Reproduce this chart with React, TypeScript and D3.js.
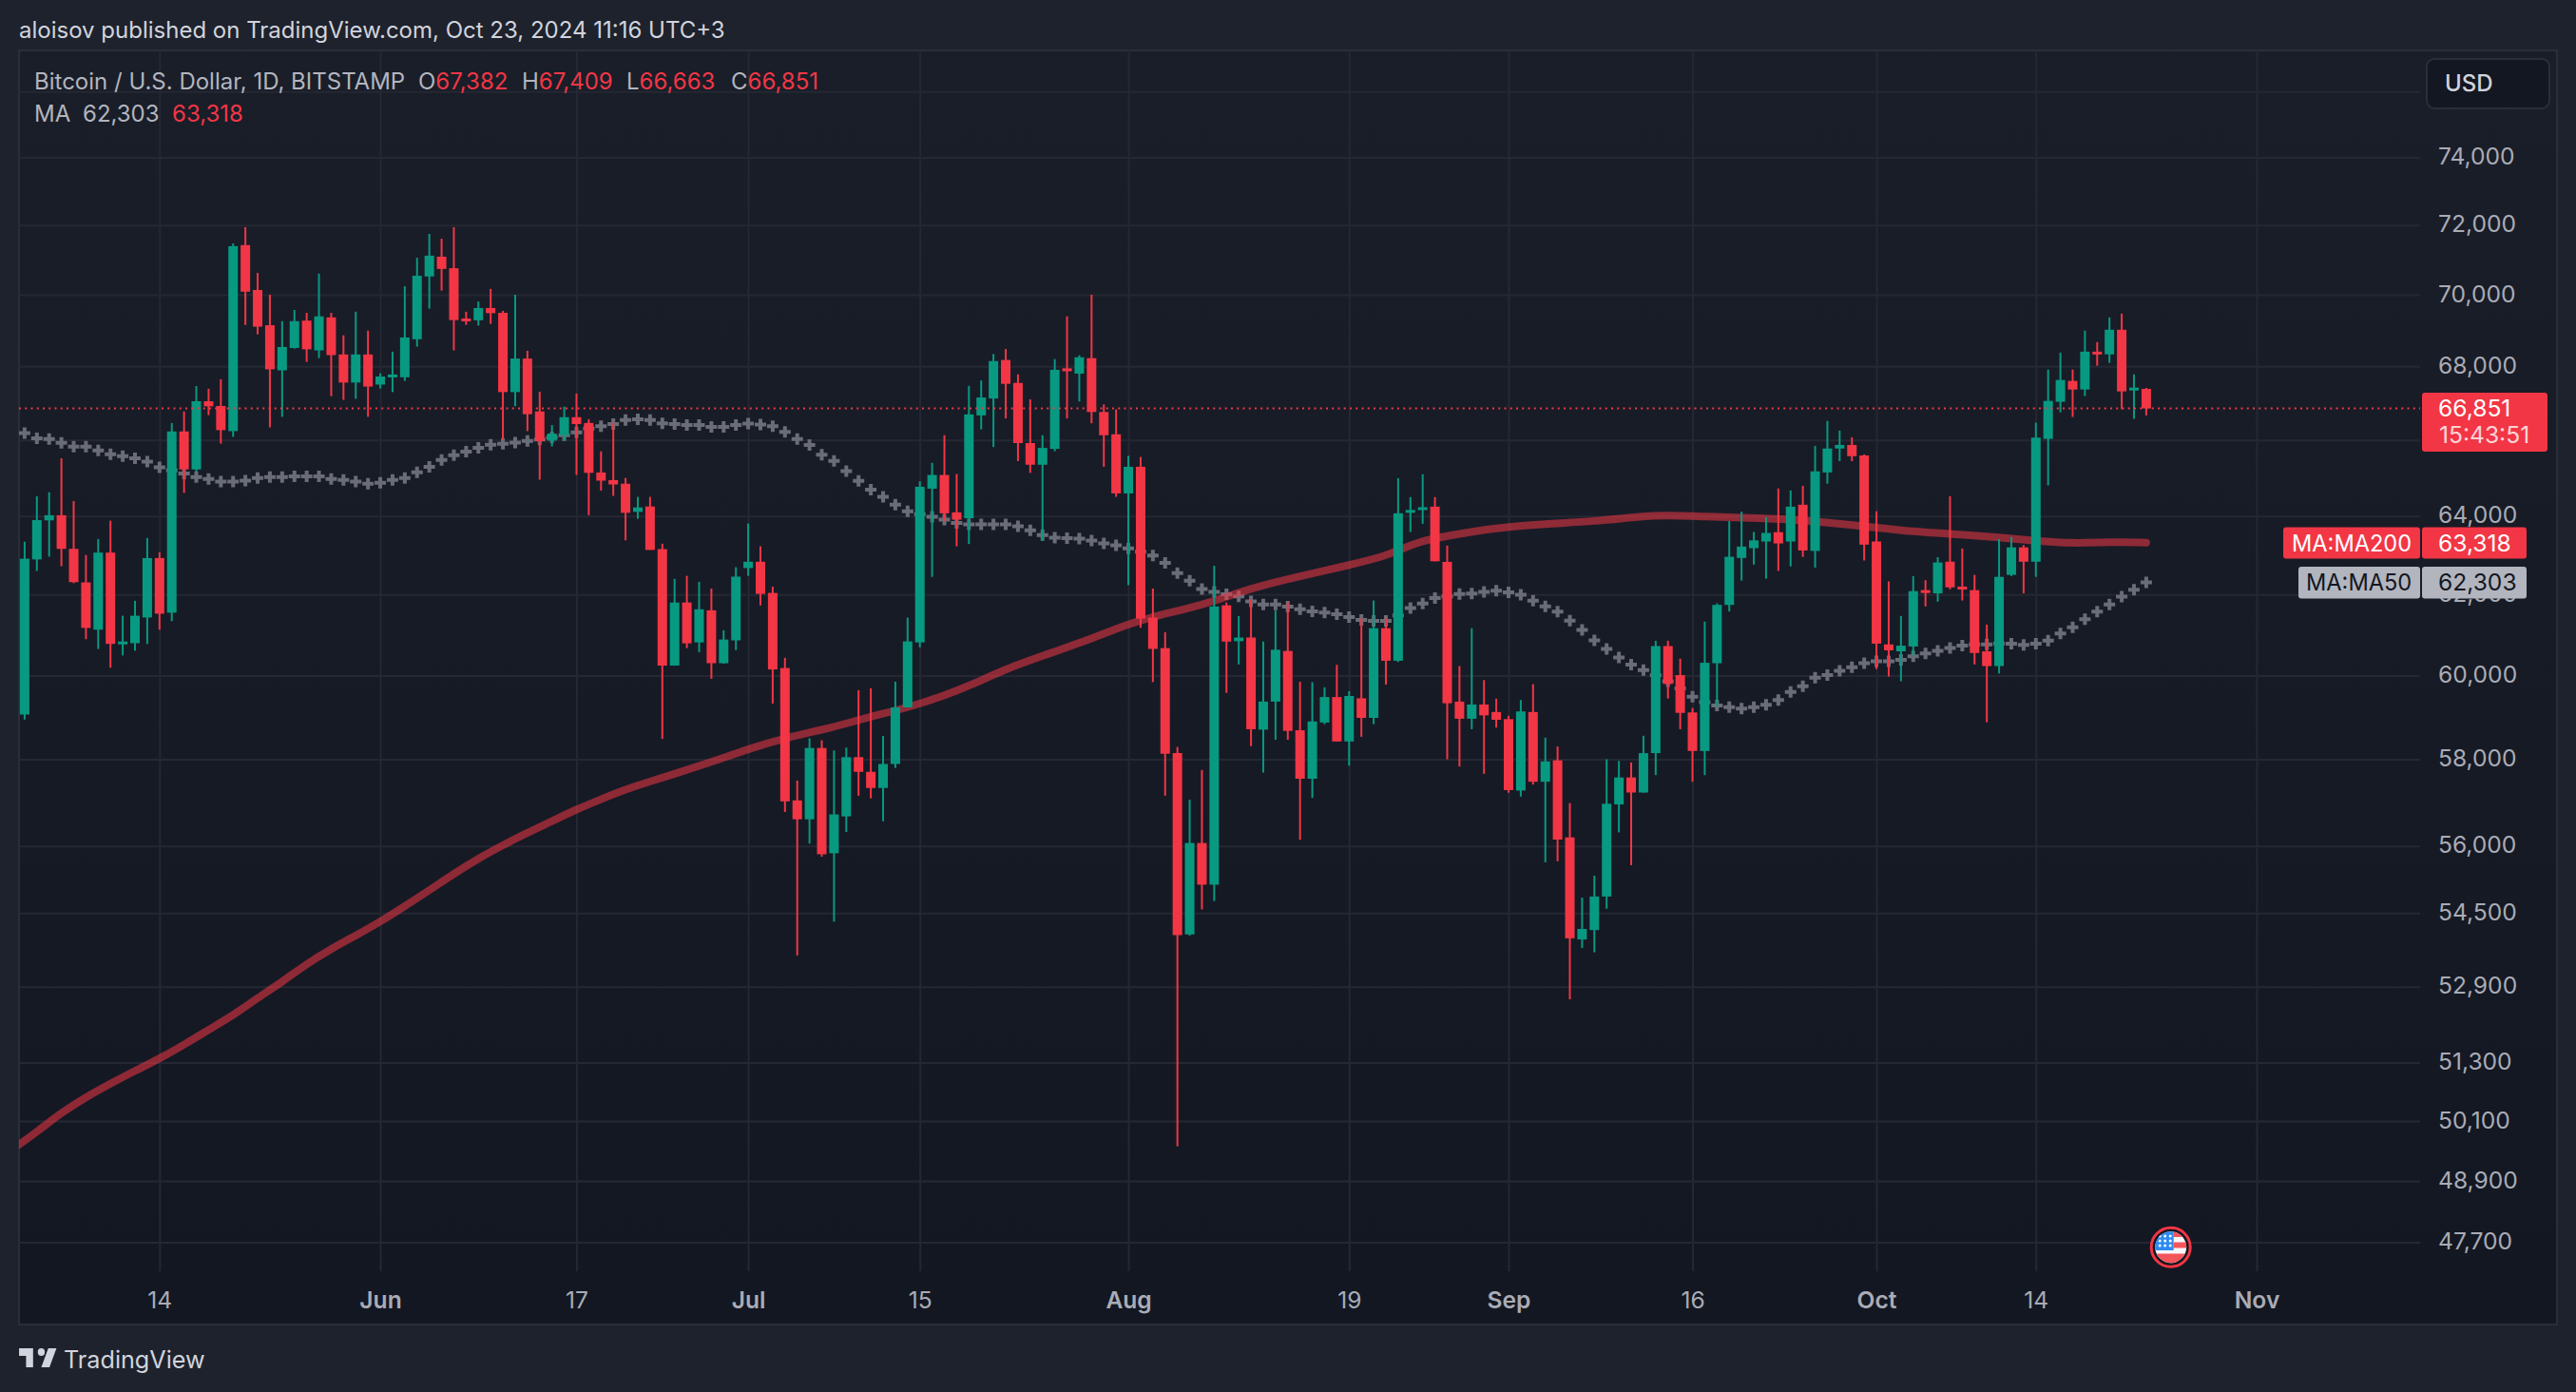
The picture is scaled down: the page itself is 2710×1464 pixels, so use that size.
import { useEffect, useRef } from 'react'
import * as d3 from 'd3'

const startDay = new Date(Date.UTC(2024, 4, 3))

// daily BITSTAMP candles, May 3 to Oct 23 2024
const opens = [
  59060, 62887, 63890, 64022, 63157, 62304, 61124, 63061, 60790, 60790, 61427, 62922, 61546, 66231, 65220, 67046, 66917, 66240, 71420, 70135,
  69140, 67890, 68507, 69270, 68440, 69360, 68328, 67555, 68328, 67500, 67720, 67700, 68750, 70520, 71085, 70755, 69330, 69280, 69625, 69490,
  67295, 68215, 66770, 65985, 66130, 66615, 66458, 65140, 64940, 64845, 64110, 64250, 63150, 60242, 61800, 60810, 61605, 60300, 60860, 62668,
  62828, 62040, 60182, 57043, 56608, 58265, 55835, 56675, 58050, 57706, 57330, 57890, 59232, 60810, 64714, 65074, 64097, 63945, 66663, 67120,
  68175, 67545, 65920, 65345, 65765, 67945, 67800, 68225, 66755, 66155, 64590, 65290, 61424, 60670, 58146, 54030, 56067, 55130, 61730, 60840,
  60930, 58700, 59370, 60600, 58685, 57545, 58870, 59480, 58420, 59450, 58980, 61160, 60360, 64090, 64160, 64245, 62825, 59370, 58960, 59300,
  59120, 58950, 57270, 59120, 57475, 57975, 56195, 53920, 54125, 54865, 56950, 57575, 57225, 58145, 60720, 60010, 59110, 58195, 60300, 61740,
  62925, 63175, 63345, 63585, 63345, 64295, 63105, 65140, 65775, 65870, 65590, 63345, 60760, 60590, 60710, 62110, 62030, 62830, 62200, 62110,
  60590, 60230, 62495, 63195, 62830, 66032, 67031, 67600, 67365, 68405, 68330, 69015, 67365, 67382,
]
const highs = [
  63339, 64515, 64622, 65515, 64392, 63000, 63409, 63881, 61470, 61843, 63435, 63070, 66458, 66770, 67460, 67386, 67645, 71470, 71940, 70620,
  70000, 69255, 69570, 69490, 70600, 69490, 68860, 69520, 68990, 67805, 68405, 70240, 71055, 71745, 71605, 71940, 69520, 69810, 70165, 69545,
  70000, 68430, 67305, 66400, 66900, 67255, 66560, 65700, 66470, 64995, 64500, 64500, 63290, 62395, 62470, 62320, 62150, 61110, 62690, 63808,
  63222, 62198, 60432, 57501, 58493, 58447, 58208, 58275, 59645, 59692, 58550, 59850, 61424, 64907, 65395, 66130, 65100, 67465, 67612, 68340,
  68480, 67780, 67095, 66130, 68200, 69390, 68306, 70000, 66960, 66825, 65580, 65550, 62150, 61060, 58290, 57060, 57750, 62725, 61800, 61460,
  61880, 60830, 61600, 61810, 59850, 59840, 59715, 60260, 59620, 61410, 61850, 61410, 64990, 64495, 65095, 64495, 63240, 60230, 61160, 59890,
  59440, 59030, 59410, 59790, 58510, 58300, 56980, 54840, 55330, 58000, 57960, 57925, 58555, 60850, 60850, 60410, 59215, 61325, 61780, 63870,
  64115, 63590, 63975, 64720, 64670, 64790, 65845, 66515, 66255, 66075, 65620, 64125, 62330, 61465, 62465, 62360, 62945, 64520, 63165, 62495,
  61250, 63410, 63460, 63255, 66466, 67912, 68380, 67912, 68990, 68670, 69360, 69466, 67780, 67409,
]
const lows = [
  58940, 62595, 62957, 62715, 62287, 60890, 60648, 60190, 60490, 60606, 60773, 61124, 61335, 64604, 65155, 66670, 65905, 66085, 69150, 68885,
  66340, 66625, 68490, 68122, 68225, 67183, 67083, 67110, 66625, 67395, 67295, 67600, 68545, 69605, 70115, 68440, 69150, 69130, 69180, 66015,
  66910, 66240, 64950, 65830, 65985, 65075, 64025, 64665, 64525, 63375, 63930, 63130, 58480, 60240, 60670, 60570, 59920, 60290, 60620, 62470,
  61727, 59323, 56775, 53573, 56055, 55757, 54310, 56317, 57150, 57087, 56562, 57797, 59230, 60690, 62445, 63870, 63222, 63280, 66285, 65815,
  66580, 65440, 65130, 63368, 65700, 66580, 67040, 66450, 65290, 64500, 62235, 61170, 59840, 57150, 49590, 54005, 54580, 54765, 59580, 60270,
  58310, 57690, 58460, 58460, 56140, 57100, 58830, 58420, 57850, 58530, 58830, 59780, 60330, 63590, 63800, 62840, 58000, 57830, 58710, 57660,
  58750, 57220, 57130, 57410, 55630, 55655, 52630, 53735, 53640, 54595, 56310, 55565, 57220, 57630, 59445, 58710, 57475, 57630, 59250, 61575,
  62350, 62755, 62400, 62595, 62710, 62950, 62680, 64845, 65440, 65440, 62860, 60155, 59975, 59860, 60490, 61700, 61820, 62130, 61850, 60270,
  58875, 60050, 62465, 62030, 62445, 64800, 66746, 66620, 67185, 68018, 68095, 66830, 66570, 66663,
]
const closes = [
  62905, 63898, 64022, 63157, 62312, 61167, 63061, 60773, 60832, 61470, 62922, 61520, 66231, 65220, 67046, 66908, 66266, 71390, 70087, 69100,
  67918, 68535, 69255, 68470, 69390, 68310, 67555, 68328, 67445, 67720, 67775, 68800, 70540, 71115, 70735, 69285, 69270, 69625, 69480, 67295,
  68215, 66695, 65970, 66175, 66615, 66430, 65130, 64925, 64825, 64085, 64225, 63130, 60242, 61800, 60787, 61630, 60300, 60880, 62450, 62828,
  62016, 60148, 57020, 56608, 58265, 55812, 56720, 58050, 57706, 57330, 57890, 59232, 60835, 64765, 65074, 64072, 63908, 66690, 67148, 68145,
  67520, 65920, 65345, 65790, 67905, 67865, 68250, 66755, 66130, 64590, 65290, 61400, 60650, 58130, 54015, 56067, 55130, 61700, 60830, 60930,
  58710, 59370, 60630, 58670, 57545, 58895, 59480, 58420, 59505, 58980, 61160, 60360, 64073, 64160, 64230, 62840, 59330, 58960, 59300, 59040,
  58935, 57280, 59135, 57475, 57950, 56145, 53945, 54150, 54865, 56965, 57575, 57225, 58145, 60720, 59795, 59100, 58195, 60310, 61740, 62955,
  63215, 63375, 63565, 63295, 64245, 63115, 65170, 65775, 65870, 65570, 63265, 60780, 60615, 60730, 62085, 62060, 62810, 62180, 62125, 60550,
  60230, 62445, 63195, 62830, 66065, 67056, 67625, 67365, 68405, 68330, 69015, 67313, 67417, 66851,
]

const ma50 = [
  66185, 66050, 66030, 65925, 65825, 65825, 65725, 65625, 65570, 65515, 65425, 65273, 65200, 65110, 65020, 64970, 64900, 64900, 64925, 64995,
  65020, 65020, 65040, 65040, 65040, 64970, 64945, 64900, 64845, 64870, 64945, 64995, 65145, 65290, 65470, 65595, 65695, 65795, 65875, 65900,
  65930, 65975, 66015, 66070, 66130, 66205, 66305, 66375, 66430, 66540, 66560, 66540, 66450, 66430, 66405, 66405, 66350, 66350, 66405, 66440,
  66415, 66375, 66220, 66025, 65870, 65610, 65445, 65175, 64920, 64689, 64500, 64300, 64125, 64050, 63985, 63910, 63820, 63785, 63785, 63785,
  63785, 63735, 63635, 63510, 63445, 63431, 63420, 63370, 63295, 63245, 63170, 63085, 62985, 62800, 62540, 62345, 62140, 62065, 62005, 61955,
  61825, 61750, 61750, 61700, 61630, 61577, 61549, 61507, 61437, 61367, 61340, 61340, 61479, 61660, 61773, 61913, 61955, 62011, 62025, 62067,
  62095, 62053, 61997, 61843, 61706, 61570, 61350, 61116, 60859, 60650, 60440, 60268, 60135, 60013, 59863, 59690, 59490, 59358, 59275, 59237,
  59200, 59237, 59292, 59405, 59600, 59742, 59947, 60013, 60116, 60200, 60298, 60345, 60345, 60384, 60470, 60540, 60605, 60673, 60730, 60760,
  60760, 60785, 60778, 60750, 60778, 60855, 61030, 61180, 61385, 61570, 61750, 61945, 62120, 62303,
]

// MA200 read at every few days, days counted from startDay
const ma200Days = [
  -1, 1, 3, 5, 7, 9, 11, 13, 15, 17, 19, 21, 23, 25, 27, 29, 31, 33, 35, 37, 39, 41, 43, 45, 47, 49, 51, 54, 56, 59, 62, 66, 69, 72, 75, 77, 80,
  83, 87, 90, 92, 96, 99, 101, 104, 108, 111, 112, 114, 116, 120, 124, 128, 132, 134, 137, 141, 143, 147, 150, 154, 158, 161, 164, 167, 170, 173,
]
const ma200 = [
  49525, 49880, 50270, 50587, 50864, 51128, 51380, 51670, 51987, 52287, 52660, 53000, 53392, 53715, 54005, 54307, 54654, 55003, 55375, 55717,
  56017, 56302, 56564, 56836, 57070, 57297, 57480, 57752, 57934, 58242, 58504, 58760, 59012, 59222, 59515, 59746, 60160, 60480, 60900, 61266,
  61450, 61730, 62053, 62235, 62460, 62740, 62980, 63120, 63370, 63490, 63700, 63800, 63862, 64000, 64025, 63985, 63950, 63933, 63833, 63740,
  63593, 63525, 63453, 63360, 63295, 63333, 63318,
]

const gridTicks = [76000, 74000, 72000, 70000, 68000, 66000, 64000, 62000, 60000, 58000, 56000, 54500, 52900, 51300, 50100, 48900, 47700]
// 76,000 and 66,000 sit fully behind the USD button and the last price label
const priceTicks = [74000, 72000, 70000, 68000, 64000, 62000, 60000, 58000, 56000, 54500, 52900, 51300, 50100, 48900, 47700]
const timeTicks = [
  new Date(Date.UTC(2024, 4, 14)),
  new Date(Date.UTC(2024, 5, 1)),
  new Date(Date.UTC(2024, 5, 17)),
  new Date(Date.UTC(2024, 6, 1)),
  new Date(Date.UTC(2024, 6, 15)),
  new Date(Date.UTC(2024, 7, 1)),
  new Date(Date.UTC(2024, 7, 19)),
  new Date(Date.UTC(2024, 8, 1)),
  new Date(Date.UTC(2024, 8, 16)),
  new Date(Date.UTC(2024, 9, 1)),
  new Date(Date.UTC(2024, 9, 14)),
  new Date(Date.UTC(2024, 10, 1)),
]
const lastClose = 66851
const lastMa200 = 63318
const lastMa50 = 62303
const eventDay = new Date(Date.UTC(2024, 9, 25))

const UP = '#089981'
const DOWN = '#f23645'
const GRID = '#252833'
const FONT = 'Inter, "Noto Sans", sans-serif'

const width = 2710
const height = 1464
const plot = { left: 20, top: 53, right: 2690, bottom: 1393, priceEdge: 2546, gridBottom: 1337 }

const x = d3
  .scaleUtc()
  .domain([startDay, new Date(Date.UTC(2024, 10, 1))])
  .range([25.9, 2374])
const y = d3.scaleLog().domain([47700, 74000]).range([1306.5, 165.6])

const dayAt = (i: number) => d3.utcDay.offset(startDay, i)

export default function App() {
  const svgRef = useRef<SVGSVGElement>(null)
  const fmt = d3.format(',')

  useEffect(() => {
    if (!svgRef.current) return
    const svg = d3.select(svgRef.current)
    const g = svg.select<SVGGElement>('.chart')
    g.selectAll('*').remove()

    // Grid
    const gridY = g
      .append('g')
      .attr('transform', `translate(${plot.left},0)`)
      .call(
        d3
          .axisRight(y)
          .tickValues(gridTicks)
          .tickSize(plot.priceEdge - plot.left)
          .tickFormat(() => ''),
      )
    const gridX = g
      .append('g')
      .attr('transform', `translate(0,${plot.top})`)
      .call(
        d3
          .axisBottom(x)
          .tickValues(timeTicks)
          .tickSize(plot.gridBottom - plot.top)
          .tickFormat(() => ''),
      )
    for (const grid of [gridY, gridX]) {
      grid.select('.domain').remove()
      grid.selectAll('line').attr('stroke', GRID).attr('stroke-width', 2)
    }

    const marks = g.append('g').attr('clip-path', 'url(#plot-clip)')

    // MA50 crosses sit behind the candles
    const cross = d3.symbol(d3.symbolCross, 80)
    marks
      .append('g')
      .selectAll('path')
      .data(ma50)
      .join('path')
      .attr('d', cross)
      .attr('transform', (d, i) => `translate(${x(dayAt(i))},${y(d)})`)
      .attr('fill', '#6a6d78')

    // MA200
    const line = d3
      .line<number>()
      .x((d, i) => x(dayAt(ma200Days[i])))
      .y(d => y(d))
      .curve(d3.curveBasis)
    marks
      .append('path')
      .datum(ma200)
      .attr('d', line)
      .attr('fill', 'none')
      .attr('stroke', DOWN)
      .attr('stroke-opacity', 0.55)
      .attr('stroke-width', 8)
      .attr('stroke-linecap', 'round')

    // Candles
    const candles = marks
      .append('g')
      .selectAll('g')
      .data(d3.range(opens.length))
      .join('g')
      .attr('fill', i => (closes[i] >= opens[i] ? UP : DOWN))
    candles
      .append('rect')
      .attr('x', i => x(dayAt(i)) - 1)
      .attr('width', 2)
      .attr('y', i => y(highs[i]))
      .attr('height', i => y(lows[i]) - y(highs[i]))
    candles
      .append('rect')
      .attr('x', i => x(dayAt(i)) - 5)
      .attr('width', 10)
      .attr('y', i => y(Math.max(opens[i], closes[i])))
      .attr('height', i => Math.max(3, Math.abs(y(opens[i]) - y(closes[i]))))

    // Last price line
    g.append('line')
      .attr('x1', plot.left)
      .attr('x2', plot.priceEdge)
      .attr('y1', y(lastClose))
      .attr('y2', y(lastClose))
      .attr('stroke', DOWN)
      .attr('stroke-width', 2)
      .attr('stroke-dasharray', '2 4.25')

    // Axes
    const priceAxis = g
      .append('g')
      .attr('transform', `translate(${plot.priceEdge},0)`)
      .call(d3.axisRight(y).tickValues(priceTicks).tickSize(0).tickPadding(19).tickFormat(d => fmt(+d)))
    const timeAxis = g
      .append('g')
      .attr('transform', 'translate(0,1359)')
      .call(
        d3
          .axisBottom(x)
          .tickValues(timeTicks)
          .tickSize(0)
          .tickPadding(0)
          .tickFormat(d => {
            const day = d as Date
            return day.getUTCDate() === 1 ? d3.utcFormat('%b')(day) : d3.utcFormat('%-d')(day)
          }),
      )
    for (const axis of [priceAxis, timeAxis]) {
      axis.select('.domain').remove()
      axis.attr('font-family', FONT).attr('font-size', 24.6)
      axis.selectAll('text').attr('fill', '#a9acb6')
    }
    priceAxis.selectAll('text').attr('dy', '0.29em')
    timeAxis
      .selectAll<SVGTextElement, Date>('text')
      .attr('font-weight', d => (d.getUTCDate() === 1 ? 600 : 400))
  }, [])

  const ex = x(eventDay)

  return (
    <svg
      ref={svgRef}
      width={width}
      height={height}
      viewBox={`0 0 ${width} ${height}`}
      style={{ position: 'absolute', left: 0, top: 0, display: 'block' }}
      fontFamily={FONT}
    >
      <defs>
        <linearGradient id="plot-bg" x1="0" y1="0" x2="0" y2="1">
          <stop offset="0%" stopColor="#1a1e29" />
          <stop offset="100%" stopColor="#131722" />
        </linearGradient>
        <clipPath id="plot-clip">
          <rect x={plot.left} y={plot.top} width={plot.priceEdge - plot.left} height={plot.gridBottom - plot.top} />
        </clipPath>
        <clipPath id="flag-clip">
          <circle cx={ex} cy={1311.7} r={16.5} />
        </clipPath>
      </defs>

      <rect width={width} height={height} fill="#1e222d" />
      <rect
        x={plot.left}
        y={plot.top}
        width={plot.right - plot.left}
        height={plot.bottom - plot.top}
        fill="url(#plot-bg)"
        stroke="#2a2e39"
        strokeWidth={2}
      />

      <text x={20} y={40} fontSize={24} fill="#d1d4dc">
        aloisov published on TradingView.com, Oct 23, 2024 11:16 UTC+3
      </text>

      <g className="chart" />

      <text x={36} y={94} fontSize={24} fill="#b2b5be">
        Bitcoin / U.S. Dollar, 1D, BITSTAMP
        <tspan x={440}>O</tspan>
        <tspan fill={DOWN}>{fmt(opens[173])}</tspan>
        <tspan x={549}>H</tspan>
        <tspan fill={DOWN}>{fmt(highs[173])}</tspan>
        <tspan x={659}>L</tspan>
        <tspan fill={DOWN}>{fmt(lows[173])}</tspan>
        <tspan x={769}>C</tspan>
        <tspan fill={DOWN}>{fmt(closes[173])}</tspan>
      </text>
      <text x={36} y={128} fontSize={24} fill="#b2b5be">
        MA
        <tspan x={87}>{fmt(lastMa50)}</tspan>
        <tspan x={181} fill={DOWN}>
          {fmt(lastMa200)}
        </tspan>
      </text>

      {/* currency button */}
      <rect x={2553} y={62} width={129} height={52} rx={8} fill="#131722" stroke="#2a2e39" strokeWidth={2} />
      <text x={2572} y={96} fontSize={24} fontWeight={500} fill="#d1d4dc">
        USD
      </text>

      {/* price labels */}
      <rect x={2548} y={413} width={132} height={62} rx={3} fill={DOWN} />
      <text x={2565} y={438} fontSize={24.6} fill="#fff">
        {fmt(lastClose)}
      </text>
      <text x={2566} y={466} fontSize={24.6} fill="#fff" fillOpacity={0.8}>
        15:43:51
      </text>

      <rect x={2402} y={554.5} width={144} height={33} rx={3} fill={DOWN} />
      <rect x={2548} y={554.5} width={110} height={33} rx={3} fill={DOWN} />
      <text x={2411} y={580} fontSize={23.6} fill="#fff">
        MA:MA200
      </text>
      <text x={2565} y={580} fontSize={24.6} fill="#fff">
        {fmt(lastMa200)}
      </text>

      <rect x={2418} y={596} width={128} height={33.5} rx={3} fill="#b2b5be" />
      <rect x={2548} y={596} width={110} height={33.5} rx={3} fill="#b2b5be" />
      <text x={2426} y={621} fontSize={23.6} fill="#131722">
        MA:MA50
      </text>
      <text x={2565} y={621} fontSize={24.6} fill="#131722">
        {fmt(lastMa50)}
      </text>

      {/* economic event flag */}
      <circle cx={ex} cy={1311.7} r={20.5} fill="#131722" stroke={DOWN} strokeWidth={3} />
      <g clipPath="url(#flag-clip)">
        <rect x={ex - 17} y={1295} width={34} height={34} fill="#f7f7fb" />
        {[1295, 1306.5, 1318.5].map(sy => (
          <rect key={sy} x={sy === 1318.5 ? ex - 17 : ex + 3} y={sy} width={34} height={sy === 1318.5 ? 12 : 6} fill="#f4555a" />
        ))}
        <rect x={ex - 17} y={1295} width={20} height={20} fill="#2e8bef" />
        {[0, 1, 2].map(r =>
          [0, 1, 2].map(c => <circle key={`${r}-${c}`} cx={ex - 11.5 + c * 5.5} cy={1300 + r * 5} r={1.5} fill="#fff" />),
        )}
      </g>

      {/* TradingView mark */}
      <path
        transform="translate(17.6,1410) scale(1.23,1.33)"
        d="M14 6H2v6h6v9h6V6Zm14 15h-7l6-15h7l-6 15Zm-7-9a3 3 0 1 0 0-6 3 3 0 0 0 0 6Z"
        fill="#d1d4dc"
      />
      <text x={67} y={1439} fontSize={25.2} fill="#d1d4dc">
        TradingView
      </text>
    </svg>
  )
}
